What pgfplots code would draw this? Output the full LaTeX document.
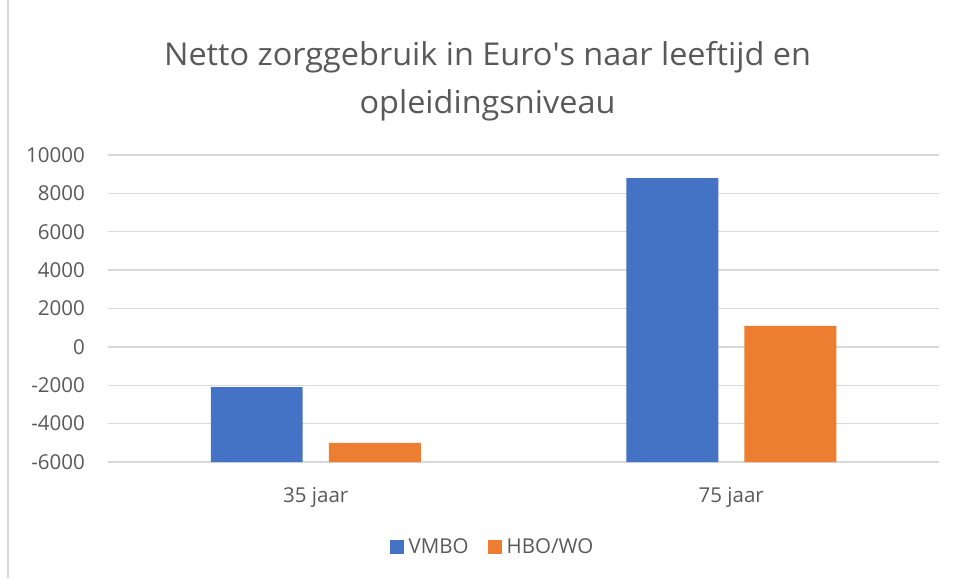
\documentclass[border=0pt]{standalone}
\usepackage{pgfplots}
\pgfplotsset{compat=1.18}
\usepackage{fontspec}
\setmainfont{Open Sans}
\newfontfamily\titlefont[FakeStretch=1.03]{Open Sans}
\definecolor{vblue}{HTML}{4472C4}
\definecolor{vorange}{HTML}{ED7D31}
\definecolor{gridgray}{HTML}{D9D9D9}
\definecolor{txtgray}{HTML}{595959}
\begin{document}
\begin{tikzpicture}[x=1pt,y=1pt]
\path[use as bounding box] (0,0) rectangle (957,578);
\draw[gridgray, line width=1.2pt] (8,0) -- (8,578);
\node[txtgray, font=\titlefont\fontsize{31.5}{38}\selectfont, anchor=base, inner sep=0pt] at (487.5,512) {Netto zorggebruik in Euro\textquotesingle s naar leeftijd en};
\node[txtgray, font=\titlefont\fontsize{31.5}{38}\selectfont, anchor=base, inner sep=0pt] at (487.5,464.5) {opleidingsniveau};
\begin{axis}[
  at={(108pt,116pt)}, anchor=south west,
  scale only axis, width=831pt, height=307pt,
  xmin=-0.5, xmax=1.5,
  xtick={0,1}, xticklabels={35 jaar,75 jaar},
  y coord trafo/.code={\pgfmathparse{#1+6000}},
  y coord inv trafo/.code={\pgfmathparse{#1-6000}},
  ymin=-6000, ymax=10000,
  ytick={-6000,-4000,-2000,0,2000,4000,6000,8000,10000},
  yticklabels={-6000,-4000,-2000,0,2000,4000,6000,8000,10000},
  scaled y ticks=false,
  ymajorgrids, grid style={gridgray, line width=1.3pt},
  axis line style={draw=none},
  major tick length=0pt,
  tick label style={font=\fontsize{20.5}{24}\selectfont, text=txtgray},
  yticklabel style={anchor=east, inner sep=0pt, xshift=-23pt},
  xticklabel style={anchor=base, inner sep=0pt, yshift=-40pt},
  legend columns=2,
  legend style={draw=none, fill=none, at={(0.4627,-0.277)}, anchor=center,
    font=\fontsize{20.5}{24}\selectfont, text=txtgray,
    /tikz/every even column/.append style={column sep=17pt}},
]
\addplot[ybar, bar width=0.2214, bar shift=-0.142, fill=vblue, draw=none,
  legend image code/.code={\fill[vblue] (0pt,-7pt) rectangle (14pt,7pt); \path (17pt,0pt);}]
  coordinates {(0,-2100) (1,8800)};
\addlegendentry{VMBO}
\addplot[ybar, bar width=0.2214, bar shift=0.142, fill=vorange, draw=none,
  legend image code/.code={\fill[vorange] (0pt,-7pt) rectangle (14pt,7pt); \path (17pt,0pt);}]
  coordinates {(0,-5000) (1,1100)};
\addlegendentry{HBO/WO}
\end{axis}
\end{tikzpicture}
\end{document}
